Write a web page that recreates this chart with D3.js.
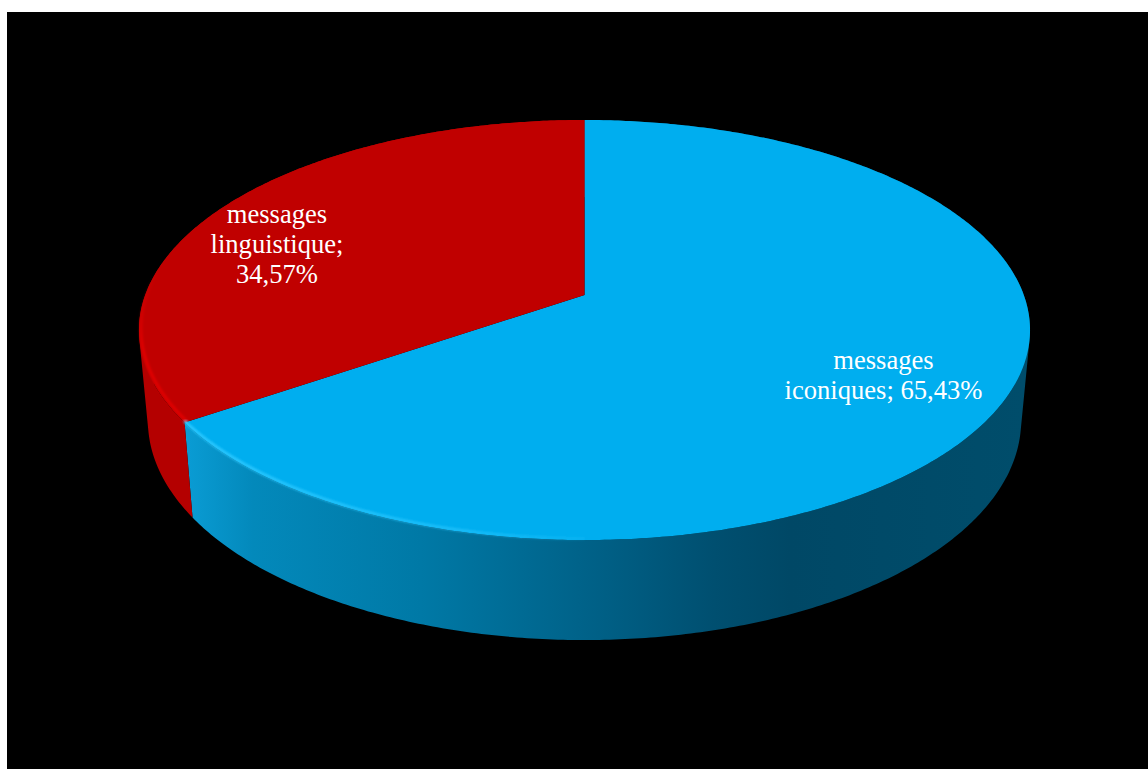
<!DOCTYPE html>
<html>
<head>
<meta charset="utf-8">
<style>
  html, body { margin: 0; padding: 0; background: #fff; }
  svg { display: block; }
  text { font-family: "Liberation Serif", serif; fill: #fff; font-size: 26.6px; text-anchor: middle; }
</style>
<script src="https://cdn.jsdelivr.net/npm/d3@7/dist/d3.min.js"></script>
</head>
<body>
<svg id="chart" width="1148" height="769"></svg>
<script>
// Pie values, in percent
const categories = ["messages iconiques", "messages linguistique"];
const shares = [65.43, 34.57];
const labelLines = [["messages", "iconiques; 65,43%"], ["messages", "linguistique;", "34,57%"]];
const topColours = ["#00aeef", "#c00000"];
const rimColours = ["#2cc8ff", "#e80000"];
const sideStops = [
  [["#0a9cd4", 0], ["#0389bb", 0.08], ["#0079a6", 0.28], ["#005f85", 0.5], ["#004f70", 0.63], ["#004866", 0.72], ["#004d6b", 1]],
  [["#b40000", 0], ["#a80000", 1]]
];

const width = 1148, height = 769;
const svg = d3.select("#chart");

// Perspective disc: the unit circle is tilted, so its far half is foreshortened
const view = { cx: 584.5, cy: 295, rx: 439.3, ry: 204.2, k: 1 / 6 };
const depth = { base: 88.5, slope: -11.5, shrink: 0.98 };

function projectTop(angle) {
  const u = Math.sin(angle), v = Math.cos(angle), w = 1 + view.k * v;
  return [view.cx + view.rx * u / w, view.cy - view.ry * v / w];
}
function projectBottom(angle) {
  const [x, y] = projectTop(angle), v = Math.cos(angle);
  return [view.cx + (x - view.cx) * depth.shrink, y + depth.base + depth.slope * v];
}
function anglesBetween(a0, a1) {
  const n = Math.ceil(Math.abs(a1 - a0) / 0.01);
  return d3.range(n + 1).map(i => a0 + (a1 - a0) * i / n);
}

const line = d3.line();
const arcs = d3.pie().sort(null).startAngle(0).endAngle(2 * Math.PI)(shares);

// Wall of a slice as a strip of quads, all wound the same way so overlaps stay filled
function wallPath(d) {
  const angles = anglesBetween(d.startAngle, d.endAngle);
  return d3.pairs(angles).map(([a, b]) => {
    const quad = [projectTop(a), projectTop(b), projectBottom(b), projectBottom(a)];
    if (d3.polygonArea(quad) < 0) quad.reverse();
    return line(quad) + "Z";
  }).join("");
}

const defs = svg.append("defs");
defs.append("filter").attr("id", "soft").append("feGaussianBlur").attr("stdDeviation", 1.3);
sideStops.forEach((stops, i) => {
  const g = defs.append("linearGradient").attr("id", "side" + i)
    .attr("gradientUnits", "userSpaceOnUse")
    .attr("x1", 186).attr("x2", 1025).attr("y1", 0).attr("y2", 0);
  stops.forEach(([c, o]) => g.append("stop").attr("offset", o).attr("stop-color", c));
});
const rimFade = defs.append("linearGradient").attr("id", "rim0")
  .attr("gradientUnits", "userSpaceOnUse").attr("x1", 186).attr("x2", 640).attr("y1", 0).attr("y2", 0);
rimFade.append("stop").attr("offset", 0).attr("stop-color", rimColours[0]).attr("stop-opacity", 1);
rimFade.append("stop").attr("offset", 0.6).attr("stop-color", rimColours[0]).attr("stop-opacity", 0.6);
rimFade.append("stop").attr("offset", 1).attr("stop-color", rimColours[0]).attr("stop-opacity", 0);
const rimFadeRed = defs.append("linearGradient").attr("id", "rim1")
  .attr("gradientUnits", "userSpaceOnUse").attr("x1", 0).attr("x2", 0).attr("y1", 270).attr("y2", 350);
rimFadeRed.append("stop").attr("offset", 0).attr("stop-color", rimColours[1]).attr("stop-opacity", 0);
rimFadeRed.append("stop").attr("offset", 1).attr("stop-color", rimColours[1]).attr("stop-opacity", 0.8);

// Plot background, inset from the page's top and left edges
svg.append("rect").attr("x", 7).attr("y", 12).attr("width", width - 7).attr("height", height - 12).attr("fill", "#000");

// Outer wall of each slice, drawn first so the top faces cover its hidden part
svg.append("g").selectAll("path").data(arcs).join("path")
  .attr("fill", (d, i) => `url(#side${i})`)
  .attr("d", wallPath);

// Top faces
svg.append("g").selectAll("path").data(arcs).join("path")
  .attr("fill", (d, i) => topColours[i])
  .attr("d", d => line([[view.cx, view.cy]].concat(anglesBetween(d.startAngle, d.endAngle).map(projectTop))) + "Z");

// Light bevel along the near rim of the disc
svg.append("g").attr("filter", "url(#soft)").selectAll("path").data(arcs).join("path")
  .attr("fill", "none").attr("stroke-width", 3)
  .attr("stroke", (d, i) => `url(#rim${i})`)
  .attr("d", d => {
    const near = d.index === 0 ? [Math.PI, d.endAngle] : [d.startAngle, Math.PI * 1.62];
    return line(anglesBetween(near[0], near[1]).map(a => {
      const [x, y] = projectTop(a);
      return [x + (d.index ? 2 : 0), y - 1.5];
    }));
  });

// Slice labels
const labelAnchors = [[883.5, 369], [277, 223]];
svg.append("g").selectAll("text").data(labelLines).join("text")
  .attr("transform", (d, i) => `translate(${labelAnchors[i]})`)
  .each(function (lines) {
    d3.select(this).selectAll("tspan").data(lines).join("tspan")
      .attr("x", 0).attr("y", (l, j) => j * 30).text(l => l);
  });
</script>
</body>
</html>
